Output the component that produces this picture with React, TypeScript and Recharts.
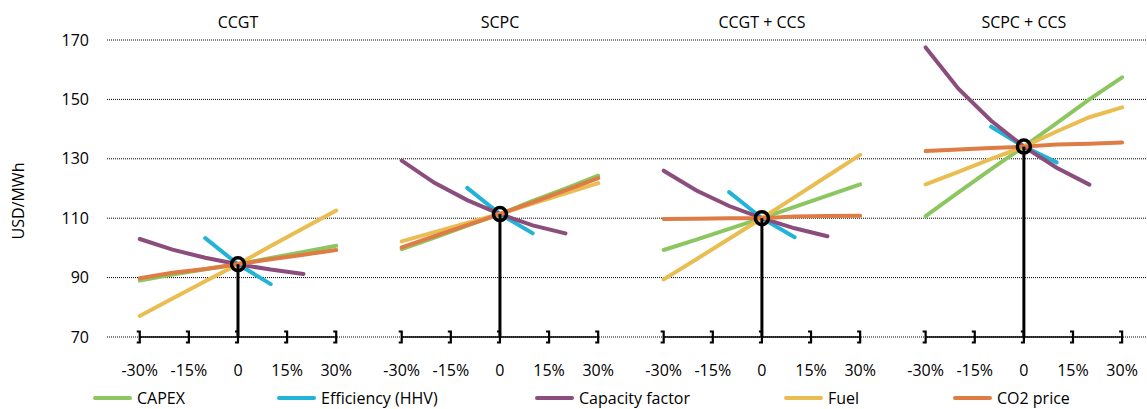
import React from 'react';
import {
  LineChart,
  Line,
  XAxis,
  YAxis,
  CartesianGrid,
  ReferenceLine,
  ReferenceDot
} from 'recharts';

const panels = ['CCGT', 'SCPC', 'CCGT + CCS', 'SCPC + CCS'];
const steps = [-30, -20, -10, 0, 10, 20, 30];
const tickSteps = [-30, -15, 0, 15, 30];
const yTicks = [70, 90, 110, 130, 150, 170];
const baseCase = [94.5, 111.4, 110.0, 134.1];

const capex = [
  [89.0, 91.0, 92.8, 94.5, 96.6, 98.6, 100.7],
  [99.6, 103.5, 107.5, 111.4, 115.8, 120.0, 124.3],
  [99.3, 102.8, 106.4, 110.0, 113.8, 117.6, 121.4],
  [110.7, 118.7, 126.5, 134.1, 142.0, 150.0, 157.4]
];
const efficiency = [
  [null, null, 103.3, 94.5, 87.8, null, null],
  [null, null, 120.2, 111.4, 104.9, null, null],
  [null, null, 118.8, 110.0, 103.6, null, null],
  [null, null, 140.8, 134.1, 128.8, null, null]
];
const capacityFactor = [
  [103.0, 99.4, 96.7, 94.5, 92.7, 91.2, null],
  [129.4, 121.9, 116.1, 111.4, 107.6, 104.9, null],
  [126.0, 119.3, 114.1, 110.0, 106.6, 103.9, null],
  [167.5, 153.6, 142.8, 134.1, 127.0, 121.3, null]
];
const fuel = [
  [77.1, 83.0, 88.8, 94.5, 100.6, 106.6, 112.6],
  [102.2, 105.3, 108.4, 111.4, 114.9, 118.4, 121.8],
  [89.4, 96.2, 103.1, 110.0, 117.1, 124.2, 131.3],
  [121.4, 125.6, 130.0, 134.1, 139.2, 144.0, 147.3]
];
const co2Price = [
  [89.8, 91.6, 92.9, 94.5, 96.2, 97.7, 99.3],
  [100.2, 104.0, 107.7, 111.4, 115.3, 119.4, 123.5],
  [109.7, 109.8, 110.0, 110.0, 110.6, 110.7, 110.8],
  [132.6, 133.1, 133.6, 134.1, 134.8, 135.1, 135.5]
];

const series = [
  { key: 'capex', name: 'CAPEX', color: '#8cc660', values: capex },
  { key: 'efficiency', name: 'Efficiency (HHV)', color: '#21b4d6', values: efficiency },
  { key: 'capacity', name: 'Capacity factor', color: '#8a4d7c', values: capacityFactor },
  { key: 'fuel', name: 'Fuel', color: '#e9bd52', values: fuel },
  { key: 'co2', name: 'CO2 price', color: '#df7c45', values: co2Price }
];

const PANEL_SPAN = 80;
const FONT = '"Open Sans", sans-serif';

const data: any[] = [];
panels.forEach((_, p) => {
  steps.forEach((s, i) => {
    const row: any = { x: p * PANEL_SPAN + s };
    series.forEach((sr) => (row[sr.key] = sr.values[p][i]));
    data.push(row);
  });
  // empty row so the lines break between panels
  const gap: any = { x: p * PANEL_SPAN + 40 };
  series.forEach((sr) => (gap[sr.key] = null));
  data.push(gap);
});

const bottomTicks = panels.flatMap((_, p) => tickSteps.map((s) => p * PANEL_SPAN + s));
const panelCenters = panels.map((_, p) => p * PANEL_SPAN);

const BottomTick = (props: any) => {
  const { x, y, payload } = props;
  const p = Math.round(payload.value / PANEL_SPAN);
  const local = payload.value - p * PANEL_SPAN;
  const label = local === 0 ? '0' : `${local}%`;
  return (
    <g>
      <path d={`M${x - 3},${y - 5.5} H${x} V${y + 5.5} H${x - 3}`} stroke="#000" strokeWidth={2.2} fill="none" />
      <text x={x} y={y + 33} textAnchor="middle" dominantBaseline="central" fontFamily={FONT} fontSize={16} fill="#000">
        {label}
      </text>
    </g>
  );
};

const legendLeft = [93, 277, 535, 784, 953];

export default function App() {
  return (
    <div style={{ position: 'absolute', left: 0, top: 0, width: 1147, height: 409, background: '#fff' }}>
      <LineChart width={1147} height={409} data={data} margin={{ top: 0, right: 0, bottom: 0, left: 0 }}>
        <CartesianGrid horizontal vertical={false} stroke="#000" strokeDasharray="1 1" />
        <XAxis
          dataKey="x"
          type="number"
          domain={[-40, 277.6]}
          ticks={bottomTicks}
          interval={0}
          height={72}
          axisLine={false}
          tickLine={false}
          tickSize={0}
          tickMargin={0}
          tick={<BottomTick />}
          allowDataOverflow
        />
        <XAxis
          xAxisId="top"
          orientation="top"
          dataKey="x"
          type="number"
          domain={[-40, 277.6]}
          ticks={panelCenters}
          interval={0}
          height={40}
          axisLine={false}
          tickLine={false}
          tickSize={0}
          tickMargin={12}
          tickFormatter={(v: number) => panels[Math.round(v / PANEL_SPAN)]}
          tick={{ fill: '#000', fontSize: 16, fontFamily: FONT }}
          allowDataOverflow
        />
        <YAxis
          type="number"
          domain={[70, 170]}
          ticks={yTicks}
          interval={0}
          width={107}
          axisLine={false}
          tickLine={false}
          tickSize={0}
          tickMargin={18}
          tick={{ fill: '#000', fontSize: 16, fontFamily: FONT }}
        />
        {series.map((sr) => (
          <Line
            key={sr.key}
            dataKey={sr.key}
            name={sr.name}
            type="linear"
            stroke={sr.color}
            strokeWidth={4}
            strokeLinecap="round"
            dot={false}
            activeDot={false}
            connectNulls={false}
            isAnimationActive={false}
          />
        ))}
        {panelCenters.map((c) => (
          <ReferenceLine
            key={`axis-${c}`}
            segment={[{ x: c - 30, y: 70 }, { x: c + 30, y: 70 }]}
            stroke="#000"
            strokeWidth={1.6}
          />
        ))}
        {panelCenters.map((c, p) => (
          <ReferenceLine
            key={`stem-${c}`}
            segment={[{ x: c, y: 70 }, { x: c, y: baseCase[p] }]}
            stroke="#000"
            strokeWidth={3}
          />
        ))}
        {panelCenters.map((c, p) => (
          <ReferenceDot key={`dot-${c}`} x={c} y={baseCase[p]} r={6.5} fill="none" stroke="#000" strokeWidth={3.5} />
        ))}
      </LineChart>
      <div
        style={{
          position: 'absolute',
          left: 18,
          top: 201,
          transform: 'translate(-50%, -50%) rotate(-90deg)',
          fontFamily: FONT,
          fontSize: 16,
          whiteSpace: 'nowrap',
          color: '#000'
        }}
      >
        USD/MWh
      </div>
      {series.map((sr, i) => (
        <div
          key={sr.key}
          style={{
            position: 'absolute',
            left: legendLeft[i],
            top: 387,
            height: 22,
            display: 'flex',
            alignItems: 'center',
            fontFamily: FONT,
            fontSize: 16,
            color: '#000',
            whiteSpace: 'nowrap'
          }}
        >
          <svg width={44} height={10}>
            <line x1={2} y1={5} x2={37} y2={5} stroke={sr.color} strokeWidth={4} strokeLinecap="round" />
          </svg>
          <span>{sr.name}</span>
        </div>
      ))}
    </div>
  );
}
